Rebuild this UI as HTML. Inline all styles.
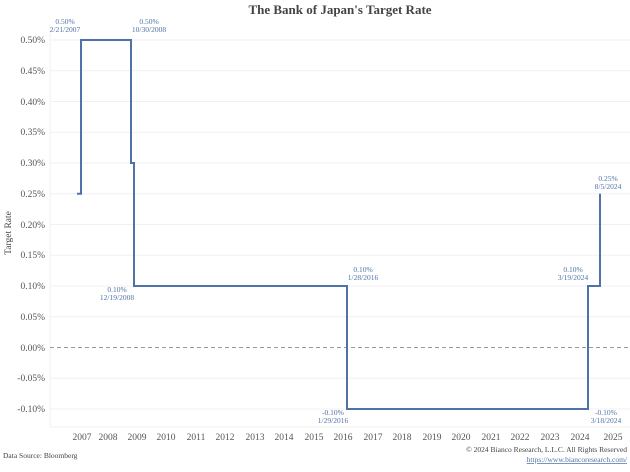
<!DOCTYPE html>
<html><head><meta charset="utf-8"><style>
body{margin:0;background:#fff}
text{font-family:"Liberation Serif",serif}
</style></head><body>
<svg width="630" height="467" xmlns="http://www.w3.org/2000/svg">
<rect width="630" height="467" fill="#fff"/>
<text x="340" y="14" text-anchor="middle" font-size="13" font-weight="bold" fill="#444">The Bank of Japan's Target Rate</text>
<g stroke="#f0f0f0" stroke-width="1">
<line x1="50" x2="630" y1="40" y2="40"/><line x1="50" x2="630" y1="70.75" y2="70.75"/>
<line x1="50" x2="630" y1="101.5" y2="101.5"/><line x1="50" x2="630" y1="132.25" y2="132.25"/>
<line x1="50" x2="630" y1="163" y2="163"/><line x1="50" x2="630" y1="193.75" y2="193.75"/>
<line x1="50" x2="630" y1="224.5" y2="224.5"/><line x1="50" x2="630" y1="255.25" y2="255.25"/>
<line x1="50" x2="630" y1="286" y2="286"/><line x1="50" x2="630" y1="316.75" y2="316.75"/>
<line x1="50" x2="630" y1="378.25" y2="378.25"/><line x1="50" x2="630" y1="409" y2="409"/>
<line x1="50" x2="50" y1="25" y2="427"/><line x1="50" x2="630" y1="427" y2="427"/>
</g>
<line x1="50" x2="630" y1="347.5" y2="347.5" stroke="#999" stroke-dasharray="4,3"/>
<g font-size="9.5" fill="#555" text-anchor="end">
<text x="45" y="43">0.50%</text><text x="45" y="74">0.45%</text><text x="45" y="105">0.40%</text>
<text x="45" y="135">0.35%</text><text x="45" y="166">0.30%</text><text x="45" y="197">0.25%</text>
<text x="45" y="228">0.20%</text><text x="45" y="258">0.15%</text><text x="45" y="289">0.10%</text>
<text x="45" y="320">0.05%</text><text x="45" y="351">0.00%</text><text x="45" y="381">-0.05%</text>
<text x="45" y="412">-0.10%</text>
</g>
<text transform="translate(11,233) rotate(-90)" font-size="9.5" fill="#444" text-anchor="middle">Target Rate</text>
<g font-size="9.5" fill="#555" text-anchor="middle">
<text x="82" y="440">2007</text><text x="108" y="440">2008</text><text x="137" y="440">2009</text>
<text x="166" y="440">2010</text><text x="196" y="440">2011</text><text x="225" y="440">2012</text>
<text x="255" y="440">2013</text><text x="284" y="440">2014</text><text x="314" y="440">2015</text>
<text x="343" y="440">2016</text><text x="373" y="440">2017</text><text x="402" y="440">2018</text>
<text x="432" y="440">2019</text><text x="461" y="440">2020</text><text x="491" y="440">2021</text>
<text x="520" y="440">2022</text><text x="550" y="440">2023</text><text x="580" y="440">2024</text>
<text x="613" y="440">2025</text>
</g>
<polyline fill="none" stroke="#4f73a6" stroke-width="2" points="77,193.75 81,193.75 81,40 131,40 131,163 134,163 134,286 347,286 347,409 588,409 588,286 600,286 600,193.75"/>
<g font-size="7.5" fill="#4f73a6" text-anchor="middle">
<text x="65" y="24">0.50%</text><text x="65" y="32">2/21/2007</text>
<text x="149" y="24">0.50%</text><text x="149" y="32">10/30/2008</text>
<text x="117" y="292">0.10%</text><text x="117" y="300">12/19/2008</text>
<text x="363" y="272">0.10%</text><text x="363" y="280">1/28/2016</text>
<text x="333" y="415">-0.10%</text><text x="333" y="423">1/29/2016</text>
<text x="573" y="272">0.10%</text><text x="573" y="280">3/19/2024</text>
<text x="606" y="415">-0.10%</text><text x="606" y="423">3/18/2024</text>
<text x="608" y="181">0.25%</text><text x="608" y="189">8/5/2024</text>
</g>
<text x="3" y="458" font-size="7.5" fill="#444">Data Source: Bloomberg</text>
<text x="627" y="452" font-size="7.5" fill="#444" text-anchor="end">© 2024 Bianco Research, L.L.C. All Rights Reserved</text>
<text x="627" y="462" font-size="7.5" fill="#4f73a6" text-anchor="end" text-decoration="underline">https://www.biancoresearch.com/</text>
</svg>
</body></html>
